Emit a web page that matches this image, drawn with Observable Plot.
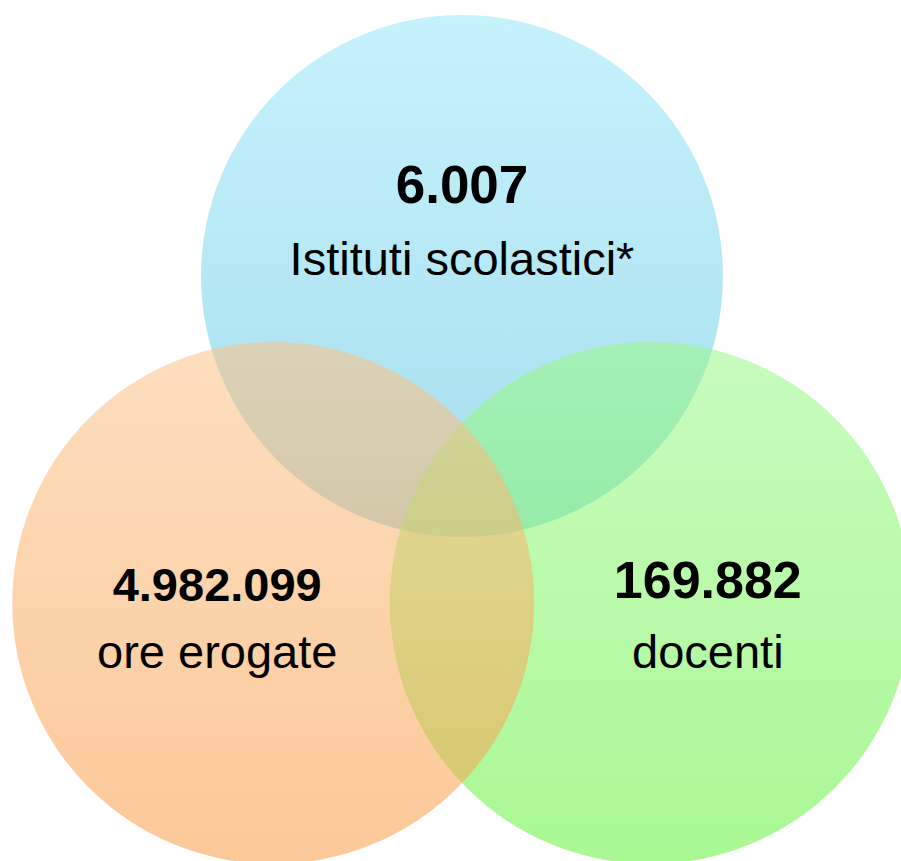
<!DOCTYPE html>
<html>
<head>
<meta charset="utf-8">
<script src="https://cdn.jsdelivr.net/npm/d3@7"></script>
<script src="https://cdn.jsdelivr.net/npm/@observablehq/plot@0.6"></script>
<style>
  html, body { margin: 0; padding: 0; background: #ffffff; }
  #chart svg { display: block; }
</style>
</head>
<body>
<div id="chart"></div>
<script>
// ---- Data ----
const sets = ["Istituti scolastici*", "ore erogate", "docenti"];
const values = [6007, 4982099, 169882];

// ---- Styles (kept apart from the data) ----
const gradientTop = ["#97e7fa", "#fbc389", "#9bf989"];
const gradientBottom = ["#5bc3de", "#fb9b44", "#64f23c"];
const drawOrder = [0, 2, 1]; // blue, green, orange on top
const numberFontSize = [53, 47, 52];
const labelFontSize = 47;

// ---- Layout: three equal circles on an equilateral triangle ----
const W = 901, H = 861;
const pxPerUnit = 218;             // distance of each centre from the centroid
const centroidPx = [461.5, 493.5];
const radiusUnits = 1.197;
const angles = [-90, 150, 30];     // top, bottom-left, bottom-right
const textDx = [0, -56, 57];                 // px, away from overlaps
const numberDy = [-73.5, -2.5, -5.5];        // baseline of the figure
const labelDy = [-1.5, 64.5, 64.5];          // baseline of the label

const fmt = d3.formatLocale({decimal: ",", thousands: ".", grouping: [3], currency: ["€", ""]}).format(",d");

const circles = sets.map((name, i) => {
  const a = angles[i] * Math.PI / 180;
  return {i, name, value: values[i], text: fmt(values[i]), cx: Math.cos(a), cy: Math.sin(a)};
});

const xDomain = [-centroidPx[0] / pxPerUnit, (W - centroidPx[0]) / pxPerUnit];
const yDomain = [-centroidPx[1] / pxPerUnit, (H - centroidPx[1]) / pxPerUnit];
const rPx = radiusUnits * pxPerUnit;

const marks = [];
for (const i of drawOrder) {
  marks.push(Plot.dot([circles[i]], {
    x: "cx", y: "cy", r: rPx,
    fill: `url(#venn-grad-${i})`, fillOpacity: 0.55, stroke: "none"
  }));
}
for (const c of circles) {
  marks.push(Plot.text([c], {
    x: "cx", y: "cy", text: "text",
    dx: textDx[c.i], dy: numberDy[c.i],
    lineAnchor: "bottom", textAnchor: "middle",
    fontSize: numberFontSize[c.i], fontWeight: "bold", fill: "#000000"
  }));
  marks.push(Plot.text([c], {
    x: "cx", y: "cy", text: "name",
    dx: textDx[c.i], dy: labelDy[c.i],
    lineAnchor: "bottom", textAnchor: "middle",
    fontSize: labelFontSize, fill: "#000000"
  }));
}

const svg = Plot.plot({
  width: W, height: H,
  margin: 0,
  x: {domain: xDomain, range: [0, W], axis: null},
  y: {domain: yDomain, range: [0, H], axis: null},
  style: {fontFamily: "'Liberation Sans', Arial, sans-serif", background: "#ffffff", overflow: "hidden"},
  marks
});

const defs = d3.select(svg).insert("defs", ":first-child");
sets.forEach((_, i) => {
  const g = defs.append("linearGradient")
    .attr("id", `venn-grad-${i}`)
    .attr("x1", 0).attr("y1", 0).attr("x2", 0).attr("y2", 1);
  g.append("stop").attr("offset", "0%").attr("stop-color", gradientTop[i]);
  g.append("stop").attr("offset", "100%").attr("stop-color", gradientBottom[i]);
});

document.getElementById("chart").appendChild(svg);
</script>
</body>
</html>
